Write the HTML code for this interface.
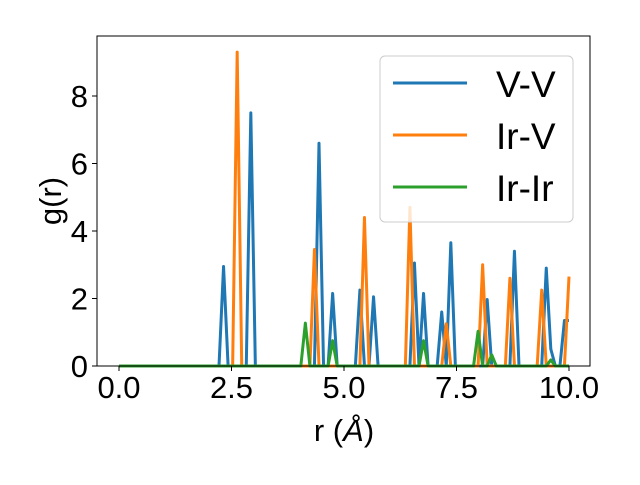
<!DOCTYPE html>
<html><head><meta charset="utf-8"><style>
body{margin:0;background:#fff}
svg text{font-family:"Liberation Sans","DejaVu Sans",sans-serif;fill:#000}
</style></head><body>
<svg id="chart" width="640" height="480" viewBox="0 0 640 480" xmlns="http://www.w3.org/2000/svg">
<rect width="640" height="480" fill="#fff"/>
<g id="series"></g>
<g id="axes"></g>
<g id="legend">
 <rect x="380" y="56" width="193" height="166" rx="5" fill="#fff" fill-opacity="0.8" stroke="#ccc" stroke-width="1"/>
 <line x1="393" x2="467" y1="83" y2="83" stroke="#1f77b4" stroke-width="3"/>
 <text x="496" y="97" font-size="37">V-V</text>
 <line x1="393" x2="467" y1="135" y2="135" stroke="#ff7f0e" stroke-width="3"/>
 <text x="496" y="149" font-size="37">Ir-V</text>
 <line x1="393" x2="467" y1="187" y2="187" stroke="#2ca02c" stroke-width="3"/>
 <text x="496" y="201" font-size="37">Ir-Ir</text>
</g>
</svg>
<script>
const N = 100;
const rMin = 0, rMax = 10;
const vvPeaks = [[23,2.95],[29,7.5],[44,6.6],[47,2.15],[53,2.25],[56,2.05],[65,3.05],[67,2.15],[71,1.6],[73,3.65],[81,1.97],[87,3.4],[94,2.9],[95,0.5],[98,1.35],[99,1.35]];
const irvPeaks = [[26,9.3],[43,3.45],[54,4.4],[64,4.7],[72,1.25],[80,3.0],[86,2.6],[93,2.25],[99,2.65]];
const iririPeaks = [[41,1.27],[47,0.75],[67,0.75],[79,1.03],[82,0.33],[95,0.18]];
const xTicks = [0,2.5,5,7.5,10];
const xTickLabels = ["0.0","2.5","5.0","7.5","10.0"];
const yTicks = [0,2,4,6,8];
const yTickLabels = ["0","2","4","6","8"];

const L=97,R=590,T=36,B=366;
const sx = v => 119 + (v-0)*45;
const sy = v => 366 - v*33.75;
const NS="http://www.w3.org/2000/svg";
function mk(tag, attrs, parent){const e=document.createElementNS(NS,tag);for(const k in attrs)e.setAttribute(k,attrs[k]);parent.appendChild(e);return e;}
function series(peaks){const y=new Array(N).fill(0);peaks.forEach(p=>{y[p[0]]=p[1];});return y;}
const sg=document.getElementById('series');
const defs=[[vvPeaks,'#1f77b4','line-vv'],[irvPeaks,'#ff7f0e','line-irv'],[iririPeaks,'#2ca02c','line-irir']];
defs.forEach(d=>{
  const ys=series(d[0]);
  const pts=ys.map((v,i)=>sx(rMin+(rMax-rMin)*i/(N-1)).toFixed(2)+','+sy(v).toFixed(2)).join(' ');
  const pl=mk('polyline',{points:pts,fill:'none',stroke:d[1],'stroke-width':3,'stroke-linejoin':'round'},sg);
  
  
});
const ag=document.getElementById('axes');
const fr=mk('rect',{x:L,y:T,width:R-L,height:B-T,fill:'none',stroke:'#000','stroke-width':1},ag);


xTicks.forEach((v,i)=>{
  mk('line',{x1:sx(v),x2:sx(v),y1:B,y2:B+5,stroke:'#000'},ag);
  const t=mk('text',{x:sx(v),y:B+32,'font-size':31,'text-anchor':'middle'},ag);
  t.textContent=xTickLabels[i];
  
  
});
yTicks.forEach((v,i)=>{
  mk('line',{x1:L-5,x2:L,y1:sy(v),y2:sy(v),stroke:'#000'},ag);
  const t=mk('text',{x:L-9,y:sy(v)+11,'font-size':31,'text-anchor':'end'},ag);
  t.textContent=yTickLabels[i];
  
  
});
const xt=mk('text',{x:344,y:441,'font-size':31,'text-anchor':'middle'},ag);
xt.innerHTML='r (<tspan font-style="italic">Å</tspan>)';


const yt=mk('text',{x:0,y:0,'font-size':31,'text-anchor':'middle',transform:'translate(61,201) rotate(-90)'},ag);
yt.textContent='g(r)';


</script>
</body></html>
